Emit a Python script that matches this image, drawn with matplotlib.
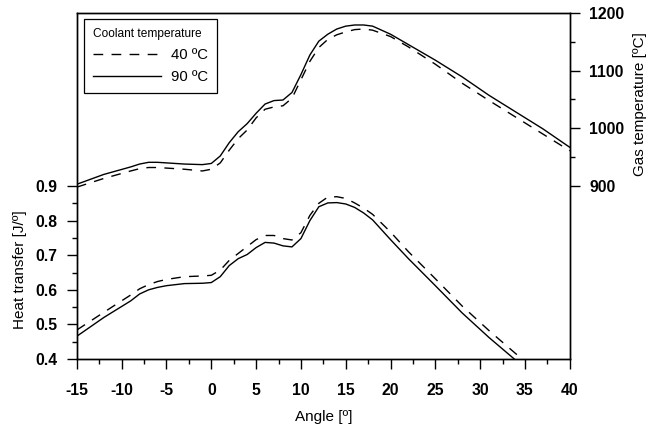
import matplotlib.pyplot as plt
from matplotlib.ticker import MultipleLocator, FixedLocator

plt.rcParams['font.family'] = ['Liberation Sans', 'DejaVu Sans']
plt.rcParams['axes.unicode_minus'] = False

# gas temperature [ºC] (right axis)
gas_angle = [-15, -12, -9, -8, -7, -6, -5, -3, -1, 0, 1, 2, 3, 4, 5, 6, 7, 8, 9, 10, 11,
             12, 13, 14, 15, 16, 17, 18, 20, 22, 25, 28, 31, 34, 37, 40]
gas_90 = [903, 920, 933, 938, 941, 941, 940, 938, 937, 939, 952, 975, 994, 1008, 1026,
          1042, 1048, 1049, 1062, 1093, 1127, 1151, 1163, 1172, 1177, 1179, 1179, 1177,
          1163, 1145, 1118, 1089, 1057, 1028, 999, 967]
gas_40 = [898, 913, 926, 930, 932, 932, 931, 929, 926, 929, 940, 962, 982, 997, 1018,
          1033, 1037, 1039, 1052, 1084, 1116, 1140, 1154, 1162, 1167, 1171, 1172, 1170,
          1159, 1141, 1111, 1078, 1048, 1019, 990, 961]

# heat transfer [J/º] (left axis)
ht_angle = [-15, -12, -9, -8, -7, -6, -5, -3, -1, 0, 1, 2, 3, 4, 5, 6, 7, 8, 9, 10, 11,
            12, 13, 14, 15, 16, 17, 18, 20, 22, 25, 28, 31, 34, 35]
ht_90 = [0.466, 0.52, 0.568, 0.588, 0.600, 0.607, 0.612, 0.618, 0.619, 0.621, 0.638,
         0.670, 0.690, 0.702, 0.722, 0.737, 0.735, 0.727, 0.724, 0.748, 0.800, 0.840,
         0.851, 0.852, 0.848, 0.838, 0.822, 0.802, 0.745, 0.690, 0.612, 0.533, 0.462,
         0.396, 0.375]
ht_40 = [0.484, 0.535, 0.585, 0.603, 0.615, 0.624, 0.630, 0.638, 0.640, 0.642, 0.657,
         0.685, 0.705, 0.725, 0.745, 0.757, 0.757, 0.748, 0.744, 0.765, 0.815, 0.850,
         0.868, 0.869, 0.864, 0.851, 0.836, 0.818, 0.767, 0.710, 0.632, 0.553, 0.482,
         0.415, 0.397]

fig = plt.figure(figsize=(6.46, 4.29), dpi=100)
ax = fig.add_axes([0.119, 0.163, 0.763, 0.807])
ax2 = ax.twinx()

dash = (0, (7, 6))
l40, = ax.plot(ht_angle, ht_40, color='black', lw=1.0, linestyle=dash)
l90, = ax.plot(ht_angle, ht_90, color='black', lw=1.0)
ax2.plot(gas_angle, gas_40, color='black', lw=1.0, linestyle=dash)
ax2.plot(gas_angle, gas_90, color='black', lw=1.0)

ax.set_xlim(-15, 40)
ax.set_ylim(0.4, 1.4)
ax2.set_ylim(600, 1200)

ax.xaxis.set_major_locator(MultipleLocator(5))
ax.xaxis.set_minor_locator(MultipleLocator(2.5))
ax.yaxis.set_major_locator(FixedLocator([0.4, 0.5, 0.6, 0.7, 0.8, 0.9]))
ax.yaxis.set_minor_locator(FixedLocator([0.45, 0.55, 0.65, 0.75, 0.85]))
ax.set_yticklabels(['0.4', '0.5', '0.6', '0.7', '0.8', '0.9'])
ax2.yaxis.set_major_locator(FixedLocator([900, 1000, 1100, 1200]))
ax2.yaxis.set_minor_locator(FixedLocator([950, 1050, 1150]))

for a in (ax, ax2):
    a.tick_params(which='major', direction='out', length=7, width=1, labelsize=11.3, pad=7)
    a.tick_params(which='minor', direction='out', length=3.8, width=1)
    for s in a.spines.values():
        s.set_linewidth(1.0)
    for lab in a.get_xticklabels() + a.get_yticklabels():
        lab.set_fontweight('bold')
ax.tick_params(axis='x', pad=10)

ax.set_xlabel('Angle [º]', fontsize=11, labelpad=9)
ax.set_ylabel('Heat transfer [J/º]', fontsize=11)
ax.yaxis.set_label_coords(-0.101, 0.257)
ax2.set_ylabel('Gas temperature [ºC]', fontsize=11)
ax2.yaxis.set_label_coords(1.128, 0.737)

leg = ax2.legend([l40, l90], ['40 ºC', '90 ºC'], title='Coolant temperature',
                 loc='upper left', bbox_to_anchor=(0.014, 0.983), borderaxespad=0,
                 fontsize=10.7, title_fontsize=8.6, frameon=True, fancybox=False,
                 edgecolor='black', framealpha=1, handlelength=4.6, handletextpad=0.67,
                 borderpad=0.6, labelspacing=0.55, alignment='left')
leg.get_frame().set_linewidth(0.9)

fig.savefig('out.png', dpi=100)
